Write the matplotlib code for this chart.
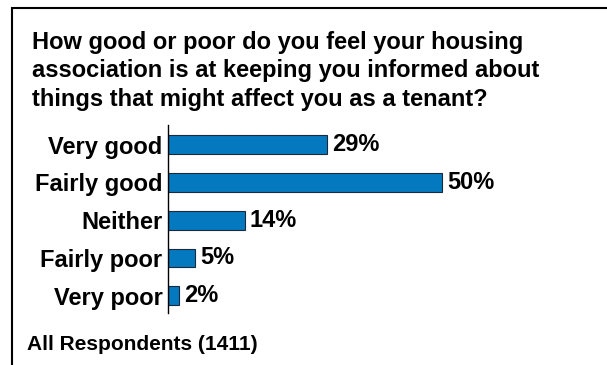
import matplotlib.pyplot as plt
from matplotlib.patches import Rectangle

plt.rcParams['font.family'] = ['Liberation Sans', 'DejaVu Sans']

title = ("How good or poor do you feel your housing\n"
         "association is at keeping you informed about\n"
         "things that might affect you as a tenant?")
categories = ["Very good", "Fairly good", "Neither", "Fairly poor", "Very poor"]
values = [29, 50, 14, 5, 2]
base_note = "All Respondents (1411)"

W, H = 607, 365
fig = plt.figure(figsize=(W / 100, H / 100), dpi=100)

# frame round the whole panel (runs off the right and bottom edges)
fig.add_artist(Rectangle((11.5 / W, -0.1), 1.2, 1.1 - 7.5 / H,
                         transform=fig.transFigure, fill=False,
                         edgecolor="black", linewidth=1.5))

fig.text(32 / W, 1 - 30.5 / H, title, fontsize=17, fontweight="bold",
         va="top", ha="left", linespacing=1.33)

ax = fig.add_axes([168 / W, 52 / H, 329 / W, 188 / H])
pos = list(range(len(categories)))
ax.barh(pos, values, height=0.5, color="#0579BF", edgecolor="#1a2a3a",
        linewidth=0.8)
ax.set_xlim(0, 60)
ax.set_ylim(4.455, -0.516)
ax.set_yticks(pos)
ax.set_yticklabels(categories, fontsize=17, fontweight="bold")
ax.tick_params(axis="y", length=0, pad=4)
ax.set_xticks([])
for s in ["top", "right", "bottom"]:
    ax.spines[s].set_visible(False)
ax.spines["left"].set_linewidth(1.0)
ax.patch.set_alpha(0)

for p, v in zip(pos, values):
    ax.annotate(f"{v}%", (v, p), xytext=(3.5, 0), textcoords="offset points",
                va="center", ha="left", fontsize=17, fontweight="bold")

fig.text(27 / W, 1 - 345 / H, base_note, fontsize=15, fontweight="bold",
         va="center", ha="left")

fig.savefig("out.png", dpi=100)
